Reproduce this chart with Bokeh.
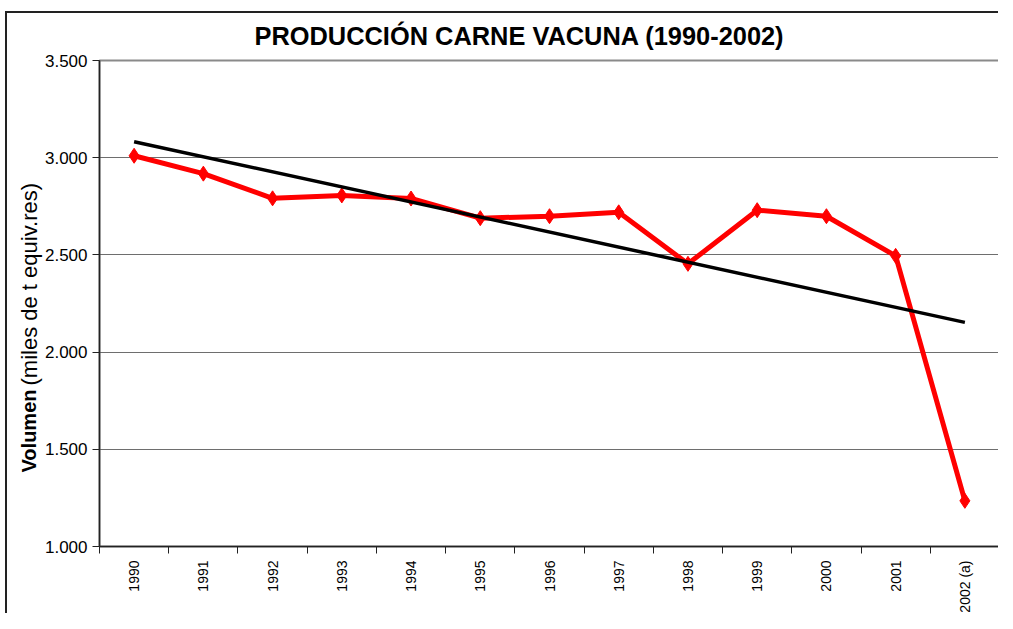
import math
from bokeh.plotting import figure
from bokeh.models import Range1d, FixedTicker, Title
from bokeh.embed import file_html
from bokeh.resources import INLINE

# ---- data ----
years = ["1990", "1991", "1992", "1993", "1994", "1995", "1996",
         "1997", "1998", "1999", "2000", "2001", "2002 (a)"]
volumen = [3010, 2918, 2791, 2806, 2790, 2689, 2699,
           2719, 2454, 2730, 2699, 2495, 1235]
trend_years = ["1990", "2002 (a)"]
trend_values = [3082, 2153]
y_ticks = [1000, 1500, 2000, 2500, 3000, 3500]
y_tick_labels = ["1.000", "1.500", "2.000", "2.500", "3.000", "3.500"]
title_text = "PRODUCCIÓN CARNE VACUNA (1990-2002)"
ylabel_bold = "Volumen"
ylabel_rest = "(miles de t equiv.res)"

idx = list(range(len(years)))
trend_idx = [years.index(y) for y in trend_years]

p = figure(width=993, height=602, output_backend="svg", toolbar_location=None,
           x_range=Range1d(-0.5, len(years) - 0.5),
           y_range=Range1d(y_ticks[0], y_ticks[-1]))
p.min_border_left = 92
p.min_border_right = 1
p.min_border_top = 0
p.min_border_bottom = 64
p.background_fill_color = "white"
p.border_fill_color = "white"
p.outline_line_color = "#8a8a8a"
p.outline_line_width = 2
# outer chart border (left and top lines only)
p.styles = {"margin-left": "5px", "margin-top": "11px",
            "border-left": "2px solid #222222", "border-top": "2px solid #222222"}

# title
p.title.text = title_text
p.title.align = "left"
p.title.offset = 155
p.title.standoff = 17
p.title.vertical_align = "top"
p.title.text_font = "Liberation Sans"
p.title.text_font_style = "bold"
p.title.text_font_size = "25.4px"
p.title.text_color = "black"

# grid
p.xgrid.grid_line_color = None
p.ygrid.grid_line_color = "#6e6e6e"
p.ygrid.grid_line_width = 1

# y axis
p.yaxis.ticker = FixedTicker(ticks=y_ticks)
p.yaxis.major_label_overrides = {t: l for t, l in zip(y_ticks, y_tick_labels)}
p.yaxis.major_label_text_font = "Liberation Sans"
p.yaxis.major_label_text_font_size = "17px"
p.yaxis.major_label_text_color = "black"
p.yaxis.major_tick_out = 7
p.yaxis.major_tick_in = 0
p.yaxis.minor_tick_out = 0
p.yaxis.minor_tick_in = 0
p.yaxis.major_label_standoff = 5
p.yaxis.axis_line_color = "#222222"
p.yaxis.axis_line_width = 1.5
p.yaxis.major_tick_line_color = "#222222"

# y axis label in two weights (two titles on the left side)
t_bold = Title(text=ylabel_bold, align="left", offset=74, standoff=3,
               text_font="Liberation Sans", text_font_style="bold",
               text_font_size="20px", text_color="black")
t_rest = Title(text=ylabel_rest, align="left", offset=161, standoff=-55,
               text_font="Liberation Sans", text_font_style="normal",
               text_font_size="22px", text_color="black")
p.add_layout(t_bold, "left")
p.add_layout(t_rest, "left")

# x axis
bounds = [i - 0.5 for i in range(len(years) + 1)]
p.xaxis.ticker = FixedTicker(ticks=idx, minor_ticks=bounds)
p.xaxis.major_label_overrides = {i: y for i, y in zip(idx, years)}
p.xaxis.major_label_orientation = math.pi / 2
p.xaxis.major_label_text_font = "Liberation Sans"
p.xaxis.major_label_text_font_size = "14px"
p.xaxis.major_label_text_color = "black"
p.xaxis.major_tick_out = 0
p.xaxis.major_tick_in = 0
p.xaxis.minor_tick_out = 7
p.xaxis.minor_tick_in = 0
p.xaxis.minor_tick_line_color = "#222222"
p.xaxis.major_label_standoff = 7
p.xaxis.axis_line_color = "#222222"
p.xaxis.axis_line_width = 1.5

# series
p.line(idx, volumen, line_color="#ff0000", line_width=5)
p.scatter(idx, volumen, marker="diamond", size=15, fill_color="#ff0000",
          line_color="#ff0000")
p.line(trend_idx, trend_values, line_color="black", line_width=3.5)

open("out.html", "w").write(file_html(p, INLINE))
